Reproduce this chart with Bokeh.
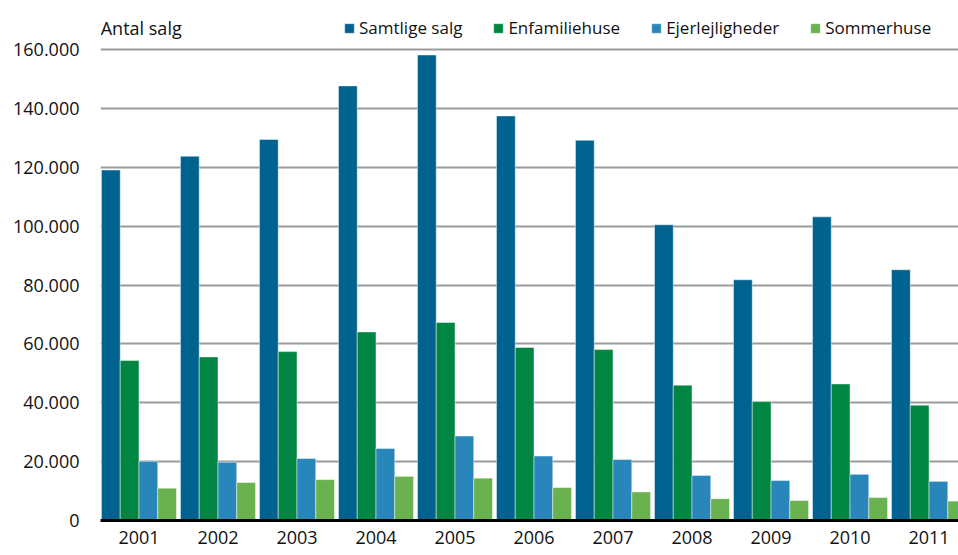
from bokeh.plotting import figure
from bokeh.models import (ColumnDataSource, FixedTicker, Range1d, Legend, LegendItem, Label)
from bokeh.transform import dodge
from bokeh.embed import file_html
from bokeh.resources import INLINE

years = ["2001", "2002", "2003", "2004", "2005", "2006", "2007", "2008", "2009", "2010", "2011"]
samtlige = [119100, 123800, 129500, 147700, 158200, 137500, 129200, 100500, 81800, 103200, 85200]
enfamilie = [54400, 55600, 57400, 64100, 67300, 58800, 58100, 46000, 40400, 46400, 39200]
ejerlejl = [20100, 19800, 21100, 24500, 28700, 21900, 20700, 15300, 13600, 15700, 13300]
sommerhuse = [11000, 12900, 13900, 15000, 14400, 11200, 9700, 7400, 6800, 7800, 6600]
series_names = ["Samtlige salg", "Enfamiliehuse", "Ejerlejligheder", "Sommerhuse"]
y_ticks = [0, 20000, 40000, 60000, 80000, 100000, 120000, 140000, 160000]

colors = ["#00628F", "#008542", "#2886BB", "#6AB14F"]
FONT = "Open Sans"

src = ColumnDataSource(dict(
    x=list(range(len(years))),
    s0=samtlige, s1=enfamilie, s2=ejerlejl, s3=sommerhuse,
))

p = figure(width=958, height=555, output_backend="svg", toolbar_location=None,
           x_range=Range1d(-0.487, 10.373), y_range=Range1d(0, 174000),
           min_border_left=100, min_border_right=0, min_border_top=8, min_border_bottom=35)
p.outline_line_color = None
p.background_fill_color = "white"
p.border_fill_color = "white"

bw = 0.2375
offsets = [-1.5 * bw, -0.5 * bw, 0.5 * bw, 1.5 * bw]
renderers = []
for i, col in enumerate(["s0", "s1", "s2", "s3"]):
    r = p.vbar(x=dodge("x", offsets[i]), top=col, width=bw, bottom=0, source=src,
               fill_color=colors[i], line_color="white", line_alpha=0.45, line_width=1)
    renderers.append(r)

# axes
xa = p.xaxis[0]
xa.ticker = FixedTicker(ticks=list(range(len(years))))
xa.major_label_overrides = {i: y for i, y in enumerate(years)}
xa.axis_line_color = "black"
xa.axis_line_width = 3
xa.major_tick_out = 0
xa.major_tick_in = 0
xa.minor_tick_out = 0
xa.minor_tick_in = 0
xa.major_label_standoff = 10
xa.major_label_text_font = FONT
xa.major_label_text_font_size = "18px"
xa.major_label_text_color = "#111111"

ya = p.yaxis[0]
ya.ticker = FixedTicker(ticks=y_ticks)
ya.major_label_overrides = {t: ("{:,}".format(t).replace(",", ".")) for t in y_ticks}
ya.axis_line_color = None
ya.major_tick_out = 0
ya.major_tick_in = 0
ya.minor_tick_out = 0
ya.minor_tick_in = 0
ya.major_label_standoff = 21
ya.major_label_text_font = FONT
ya.major_label_text_font_size = "18px"
ya.major_label_text_color = "#111111"

p.xgrid.visible = False
p.ygrid.grid_line_color = "#9b9b9b"
p.ygrid.grid_line_width = 2

legend = Legend(items=[LegendItem(label=n, renderers=[r]) for n, r in zip(series_names, renderers)],
                orientation="horizontal", location=(243, 481),
                glyph_width=12, glyph_height=12, label_standoff=4, spacing=30,
                padding=0, margin=0, border_line_color=None, background_fill_alpha=0,
                label_text_font=FONT, label_text_font_size="17px", label_text_color="#111111")
p.add_layout(legend)

p.add_layout(Label(x=-0.484, y=167500, text="Antal salg", text_font=FONT, text_font_size="18px",
                   text_color="#111111", text_baseline="middle", text_align="left"))

open("out.html", "w").write(file_html(p, INLINE))
